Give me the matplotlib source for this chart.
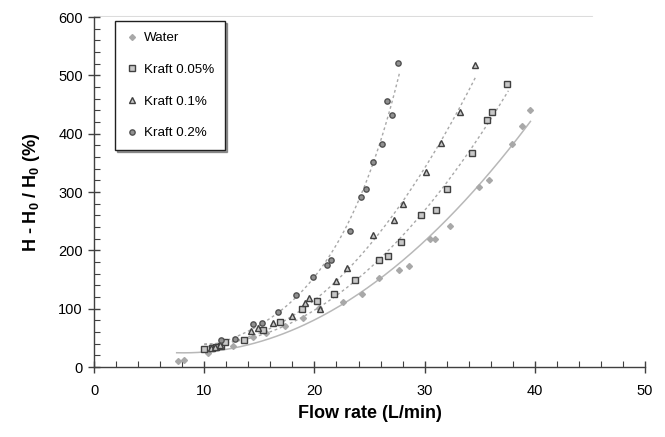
import numpy as np
import matplotlib
matplotlib.use("Agg")
import matplotlib.pyplot as plt
from matplotlib.ticker import MultipleLocator

plt.rcParams['font.family'] = ['Liberation Sans', 'DejaVu Sans']
plt.rcParams['mathtext.fontset'] = 'custom'
plt.rcParams['mathtext.rm'] = 'Liberation Sans:bold'
plt.rcParams['mathtext.default'] = 'rm'

# Valeurs
water_x = [7.6, 8.2, 10.3, 12.6, 14.4, 15.6, 17.3, 19.0, 20.4, 22.6, 24.3, 25.9,
           27.7, 28.6, 30.5, 30.9, 32.3, 34.9, 35.8, 37.9, 38.8, 39.6]
water_y = [10, 12, 24, 36, 52, 59, 71, 84, 101, 112, 126, 153,
           167, 173, 219, 219, 242, 309, 321, 382, 414, 441]

k005_x = [10.0, 10.7, 11.1, 11.5, 11.9, 13.6, 15.3, 16.9, 18.9, 20.2, 21.8, 23.7,
          25.9, 26.7, 27.9, 29.7, 31.0, 32.0, 34.3, 35.7, 36.1, 37.5]
k005_y = [31, 33, 35, 36, 43, 47, 64, 77, 100, 114, 125, 149,
          184, 191, 214, 260, 269, 306, 367, 424, 437, 486]

k01_x = [10.6, 11.0, 11.4, 14.2, 14.9, 16.2, 18.0, 19.1, 19.5, 20.5, 22.0, 23.0,
         25.3, 27.2, 28.0, 30.1, 31.5, 33.2, 34.6]
k01_y = [32, 34, 37, 62, 67, 75, 88, 110, 119, 100, 147, 169,
         226, 252, 279, 334, 384, 437, 517]

k02_x = [11.5, 12.8, 14.4, 15.2, 16.7, 18.3, 19.9, 21.1, 21.5, 23.2, 24.2, 24.7,
         25.3, 26.1, 26.6, 27.0, 27.6]
k02_y = [46, 48, 74, 75, 95, 123, 155, 175, 183, 234, 292, 305,
         351, 382, 456, 432, 521]

fig = plt.figure(figsize=(6.65, 4.37), dpi=100)
ax = fig.add_axes([0.1414, 0.160, 0.8286, 0.801])

# Courbes de tendance : polynome d'ordre 2, exponentielle pour 0.2%
fits = [(water_x, water_y, 7.5, 39.6, 'poly'),
        (k005_x, k005_y, 10.0, 37.6, 'poly'),
        (k01_x, k01_y, 10.0, 34.7, 'poly'),
        (k02_x, k02_y, 10.2, 27.7, 'exp')]
for xs, ys, x0, x1, kind in fits:
    xx = np.linspace(x0, x1, 200)
    if kind == 'poly':
        yy = np.polyval(np.polyfit(xs, ys, 2), xx)
    else:
        c = np.polyfit(xs, np.log(ys), 1, w=np.sqrt(ys))
        yy = np.exp(np.polyval(c, xx))
    if xs is water_x:
        ax.plot(xx, yy, color='#b8b8b8', lw=1.1, zorder=1)
    else:
        ax.plot(xx, yy, color='#a8a8a8', lw=1.0, dashes=(2, 2), zorder=1)

ax.plot(water_x, water_y, 'D', ms=3.0, mfc='#a8a8a8', mec='#a8a8a8',
        ls='none', label='Water', zorder=3)
ax.plot(k005_x, k005_y, 's', ms=4.0, mfc='#c8c8c8', mec='#404040', mew=1.0,
        ls='none', label='Kraft 0.05%', zorder=3)
ax.plot(k01_x, k01_y, '^', ms=4.5, mfc='#c8c8c8', mec='#404040', mew=1.0,
        ls='none', label='Kraft 0.1%', zorder=3)
ax.plot(k02_x, k02_y, 'o', ms=3.8, mfc='#909090', mec='#505050', mew=1.0,
        ls='none', label='Kraft 0.2%', zorder=3)

ax.set_xlim(0, 50)
ax.set_ylim(0, 600)
ax.xaxis.set_major_locator(MultipleLocator(10))
ax.xaxis.set_minor_locator(MultipleLocator(2))
ax.yaxis.set_major_locator(MultipleLocator(100))
ax.yaxis.set_minor_locator(MultipleLocator(20))

for s in ['top', 'right']:
    ax.spines[s].set_visible(False)
for s in ['left', 'bottom']:
    ax.spines[s].set_color('#404040')
    ax.spines[s].set_linewidth(1.0)

ax.tick_params(axis='x', which='major', direction='inout', length=8, width=1,
               color='#404040', labelsize=10.5, pad=8)
ax.tick_params(axis='y', which='major', direction='inout', length=8, width=1,
               color='#404040', labelsize=10.5, pad=4)
ax.tick_params(which='minor', direction='in', length=4, width=0.8, color='#404040')

ax.set_xlabel('Flow rate (L/min)', fontsize=13, fontweight='bold', labelpad=5)
ax.set_ylabel(r'H - H$_0$ / H$_0$ (%)', fontsize=13, fontweight='bold', labelpad=12)

# cadre clair de la zone de tracé
fig.add_artist(plt.Rectangle((94 / 665, 1 - 367 / 437), (592 - 94) / 665,
                             (367 - 16) / 437, transform=fig.transFigure,
                             fill=False, ec='#dcdcdc', lw=0.8, zorder=0))

leg = ax.legend(loc='upper left', bbox_to_anchor=(0.038, 0.988), fontsize=9.6,
                frameon=True, fancybox=False,
                shadow={'ox': 1.5, 'oy': -1.5, 'color': '#404040'},
                labelspacing=1.45, handlelength=1.0, handletextpad=0.4,
                borderpad=0.8, borderaxespad=0)
leg.get_frame().set_edgecolor('#202020')
leg.get_frame().set_linewidth(1.0)

fig.savefig('out.png', dpi=100)
